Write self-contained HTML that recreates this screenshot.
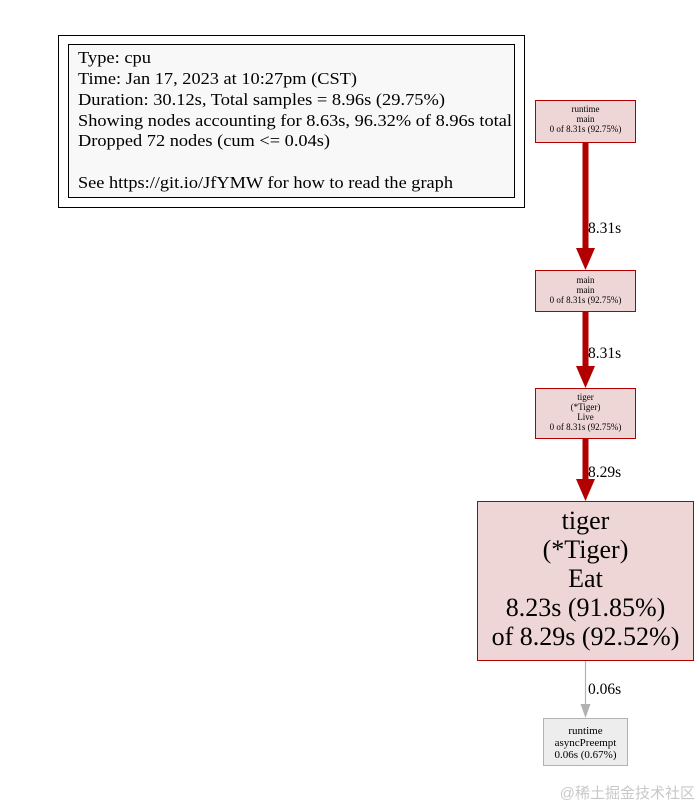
<!DOCTYPE html>
<html><head><meta charset="utf-8"><style>
html,body{margin:0;padding:0;background:#fff;width:700px;height:805px;overflow:hidden}
svg text{font-family:"Liberation Serif",serif}
</style></head><body>
<svg width="700" height="805" viewBox="0 0 700 805" xmlns="http://www.w3.org/2000/svg">
<rect x="58.5" y="35.5" width="466" height="172" fill="#fff" stroke="#000" stroke-width="1"/>
<rect x="68.5" y="44.5" width="446" height="153" fill="#f8f8f8" stroke="#000" stroke-width="1"/>
<g font-size="17" fill="#000">
<text x="78" y="63" textLength="73" lengthAdjust="spacingAndGlyphs">Type: cpu</text>
<text x="78" y="84" textLength="279" lengthAdjust="spacingAndGlyphs">Time: Jan 17, 2023 at 10:27pm (CST)</text>
<text x="78" y="105" textLength="367" lengthAdjust="spacingAndGlyphs">Duration: 30.12s, Total samples = 8.96s (29.75%)</text>
<text x="78" y="126" textLength="434" lengthAdjust="spacingAndGlyphs">Showing nodes accounting for 8.63s, 96.32% of 8.96s total</text>
<text x="78" y="146" textLength="252" lengthAdjust="spacingAndGlyphs">Dropped 72 nodes (cum &lt;= 0.04s)</text>
<text x="78" y="188" textLength="375" lengthAdjust="spacingAndGlyphs">See https://git.io/JfYMW for how to read the graph</text>
</g>
<g fill="#b20000" stroke="#b20000">
<line x1="585.5" y1="142" x2="585.5" y2="250" stroke-width="6"/>
<polygon points="576,248 595,248 585.5,270" stroke="none"/>
<line x1="585.5" y1="311" x2="585.5" y2="368" stroke-width="6"/>
<polygon points="576,366 595,366 585.5,388" stroke="none"/>
<line x1="585.5" y1="438" x2="585.5" y2="481" stroke-width="6"/>
<polygon points="576,479 595,479 585.5,501" stroke="none"/>
</g>
<line x1="585.5" y1="660" x2="585.5" y2="706" stroke="#b2b2b2" stroke-width="1.2"/>
<polygon points="580.5,704 590.5,704 585.5,718" fill="#b2b2b2"/>
<g font-size="15.5" fill="#000">
<text x="588" y="233">8.31s</text>
<text x="588" y="358">8.31s</text>
<text x="588" y="477">8.29s</text>
<text x="588" y="694">0.06s</text>
</g>
<g fill="#edd6d5" stroke="#b20000" stroke-width="1">
<rect x="535.5" y="100.5" width="100" height="42"/>
<rect x="535.5" y="270.5" width="100" height="41"/>
<rect x="535.5" y="388.5" width="100" height="50"/>
<rect x="477.5" y="501.5" width="216" height="159"/>
</g>
<rect x="543.5" y="718.5" width="84" height="47" fill="#ededed" stroke="#b2b2b2"/>
<g font-size="9" text-anchor="middle" fill="#000">
<text x="585.5" y="112">runtime</text>
<text x="585.5" y="122">main</text>
<text x="585.5" y="132">0 of 8.31s (92.75%)</text>
<text x="585.5" y="283">main</text>
<text x="585.5" y="293">main</text>
<text x="585.5" y="303">0 of 8.31s (92.75%)</text>
<text x="585.5" y="400">tiger</text>
<text x="585.5" y="410">(*Tiger)</text>
<text x="585.5" y="420">Live</text>
<text x="585.5" y="430">0 of 8.31s (92.75%)</text>
</g>
<g font-size="11" text-anchor="middle" fill="#000">
<text x="585.5" y="734">runtime</text>
<text x="585.5" y="746">asyncPreempt</text>
<text x="585.5" y="758">0.06s (0.67%)</text>
</g>
<g font-size="26" text-anchor="middle" fill="#000">
<text x="585.5" y="529">tiger</text>
<text x="585.5" y="558">(*Tiger)</text>
<text x="585.5" y="587">Eat</text>
<text x="585.5" y="616">8.23s (91.85%)</text>
<text x="585.5" y="645">of 8.29s (92.52%)</text>
</g>
<text x="695" y="798" font-size="15" text-anchor="end" fill="#c8c8c8" style="font-family:'Liberation Sans','Noto Sans CJK SC',sans-serif">@稀土掘金技术社区</text>
</svg>
</body></html>
